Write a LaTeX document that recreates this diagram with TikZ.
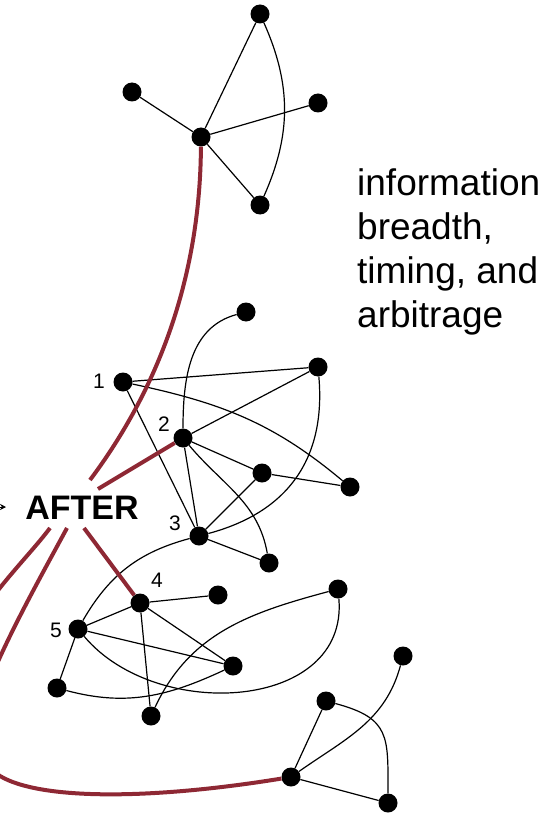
\documentclass[tikz,border=0pt]{standalone}
\usepackage{fontspec}
\setmainfont{Liberation Sans}
\usetikzlibrary{arrows.meta}
\definecolor{linkred}{RGB}{142,40,52}
\begin{document}
\begin{tikzpicture}[x=1pt,y=1pt,
  dot/.style={circle,fill=black,inner sep=0pt,minimum size=19pt},
  edge/.style={line width=1.2pt,black},
  link/.style={line width=4pt,linkred},
  num/.style={font=\fontsize{21}{21}\selectfont,inner sep=0pt}]
\useasboundingbox (0,0) rectangle (543,-821);
\clip (0,0) rectangle (543,-821);

% top cluster
\node[dot] (t0) at (201,-137) {};
\node[dot] (t1) at (260,-14) {};
\node[dot] (t2) at (132,-92) {};
\node[dot] (t3) at (318,-103) {};
\node[dot] (t4) at (260,-205) {};

% middle cluster
\node[dot] (m1) at (123,-382) {};
\node[dot] (mt) at (246,-312) {};
\node[dot] (mr1) at (318,-367) {};
\node[dot] (m2) at (183,-438) {};
\node[dot] (mr2) at (262,-473) {};
\node[dot] (mr3) at (350,-487) {};
\node[dot] (m3) at (199,-536) {};
\node[dot] (mb) at (269,-563) {};

% lower cluster
\node[dot] (n4) at (140,-603) {};
\node[dot] (n5) at (78,-629) {};
\node[dot] (b1) at (218,-595) {};
\node[dot] (b2) at (233,-666) {};
\node[dot] (b3) at (57,-688) {};
\node[dot] (b4) at (151,-716) {};
\node[dot] (b5) at (338,-589) {};

% bottom-right cluster
\node[dot] (r0) at (291,-777) {};
\node[dot] (r1) at (326,-701) {};
\node[dot] (r2) at (403,-656) {};
\node[dot] (r3) at (388,-803) {};

% numbers
\node[num] (l1) at (99,-381) {1};
\node[num] (l2) at (164,-424) {2};
\node[num] (l3) at (175,-523) {3};
\node[num] (l4) at (157,-580) {4};
\node[num] (l5) at (56,-630) {5};

% labels
\node[font=\bfseries\fontsize{34}{34}\selectfont,inner sep=0pt] (after) at (82,-508) {AFTER};
\node[font=\fontsize{37}{44}\selectfont,align=left,anchor=north west,inner sep=0pt]
  (note) at (357,-168) {information\\breadth,\\timing, and\\arbitrage};

% black edges
\draw[edge] (t0) -- (t1) (t0) -- (t2) (t0) -- (t3) (t0) -- (t4);
\draw[edge] (t1) to[out=-66,in=66] (t4);

\draw[edge] (m1) -- (mr1) (m1) -- (m3) (m2) -- (mr1) (m2) -- (mr2) (m2) -- (m3)
  (mr2) -- (mr3) (mr2) -- (m3) (m3) -- (mb);
\draw[edge] (m1) to[out=-12,in=140] (mr3);
\draw[edge] (mt) to[out=195,in=90] (m2);
\draw[edge] (m2) to[out=-50,in=100] (mb);
\draw[edge] (mr1) to[out=-85,in=15,looseness=1.1] (m3);
\draw[edge] (m3) to[out=195,in=60] (n5);

\draw[edge] (n4) -- (b1) (n4) -- (n5) (n4) -- (b2) (n4) -- (b4) (n5) -- (b2) (n5) -- (b3);
\draw[edge] (n5) to[out=-50,in=-85,looseness=1.12] (b5);
\draw[edge] (b4) to[out=65,in=195] (b5);
\draw[edge] (b3) to[out=-15,in=205] (b2);

\draw[edge] (r0) -- (r1) (r0) -- (r3);
\draw[edge] (r0) to[out=35,in=-105] (r2);
\draw[edge] (r1) to[out=-15,in=90,looseness=1.4] (r3);

% red links leaving AFTER
\coordinate (a1) at (90,-480);
\coordinate (a2) at (98,-489);
\coordinate (a3) at (84,-528);
\coordinate (a4) at (67,-528);
\coordinate (a5) at (50,-528);
\coordinate (edgeL) at (-8,-598);
\coordinate (edgeM) at (-12,-685);
\coordinate (edgeB) at (0,-776);
\draw[link] (a1) .. controls (150,-400) and (200,-290) .. (t0);
\draw[link] (a2) -- (m2);
\draw[link] (a3) -- (n4);
\draw[link] (a5) .. controls (35,-548) and (15,-568) .. (edgeL);
\draw[link] (a4) .. controls (40,-578) and (8,-635) .. (edgeM)
  .. controls (-30,-730) and (-25,-760) .. (edgeB)
  .. controls (40,-800) and (150,-800) .. (r0);

% small arrow entering from the left
\coordinate (arrtail) at (-30,-507);
\coordinate (arrtip) at (6,-507);
\draw[-{Stealth[length=6pt,width=6pt]},line width=0.8pt] (arrtail) -- (arrtip);
\end{tikzpicture}
\end{document}
